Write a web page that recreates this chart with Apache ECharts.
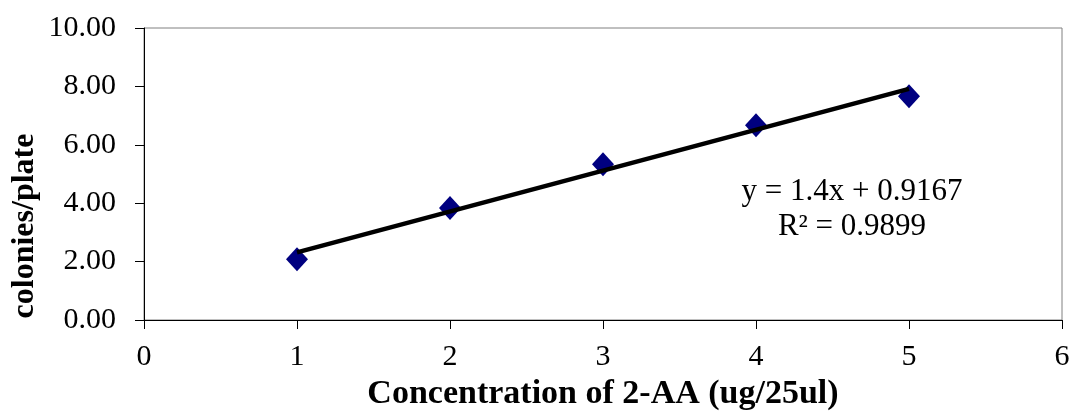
<!DOCTYPE html>
<html>
<head>
<meta charset="utf-8">
<script src="https://cdn.jsdelivr.net/npm/echarts@6/dist/echarts.min.js"></script>
<style>
  html, body { margin: 0; padding: 0; background: #fff; }
  #chart { width: 1072px; height: 412px; }
</style>
</head>
<body>
<div id="chart"></div>
<script>
// measured points
const concentration = [1, 2, 3, 4, 5]
const colonies = [2.0833, 3.8333, 5.3333, 6.6667, 7.6667]

// linear trendline end points (y = 1.4x + 0.9167)
const trendX = [1, 5]
const trendY = [2.3167, 7.9167]

const equationLines = ['y = 1.4x + 0.9167', 'R² = 0.9899']

const font = '"Liberation Serif", "Times New Roman", serif'

const chart = echarts.init(document.getElementById('chart'))

const options = {
  backgroundColor: '#fff',
  animation: false,
  grid: {
    left: 144,
    right: 10,
    top: 28,
    bottom: 92,
    containLabel: false,
    outerBoundsMode: 'none',
    show: true,
    borderColor: '#808080',
    borderWidth: 1,
    backgroundColor: '#fff'
  },
  xAxis: {
    type: 'value',
    min: 0,
    max: 6,
    interval: 1,
    name: 'Concentration of 2-AA (ug/25ul)',
    nameLocation: 'middle',
    nameGap: 57,
    nameTextStyle: { fontFamily: font, fontSize: 34, fontWeight: 'bold', color: '#000' },
    axisLine: { show: true, onZero: false, lineStyle: { color: '#000', width: 1 } },
    axisTick: { show: true, inside: false, length: 9, lineStyle: { color: '#000' } },
    axisLabel: { fontFamily: font, fontSize: 30, color: '#000', margin: 22 },
    splitLine: { show: false }
  },
  yAxis: {
    type: 'value',
    min: 0,
    max: 10,
    interval: 2,
    axisLine: { show: true, onZero: false, lineStyle: { color: '#000', width: 1 } },
    axisTick: { show: true, inside: false, length: 9, lineStyle: { color: '#000' } },
    axisLabel: {
      fontFamily: font, fontSize: 30, color: '#000', margin: 28,
      formatter: v => v.toFixed(2)
    },
    splitLine: { show: false }
  },
  series: [
    {
      name: 'colonies',
      type: 'scatter',
      symbol: 'diamond',
      symbolSize: [22, 24],
      itemStyle: { color: '#000080', opacity: 1 },
      data: concentration.map((x, i) => [x, colonies[i]]),
      z: 2
    },
    {
      name: 'trend',
      type: 'line',
      showSymbol: false,
      symbol: 'none',
      lineStyle: { color: '#000', width: 4.5 },
      data: trendX.map((x, i) => [x, trendY[i]]),
      z: 3
    }
  ],
  graphic: [
    {
      type: 'text',
      x: 25,
      y: 226,
      rotation: Math.PI / 2,
      style: {
        text: 'colonies/plate',
        font: 'bold 32px ' + font,
        fill: '#000',
        textAlign: 'center',
        textVerticalAlign: 'middle'
      }
    },
    {
      type: 'text',
      x: 852,
      y: 209,
      style: {
        text: equationLines.join('\n'),
        font: '31px ' + font,
        lineHeight: 35,
        fill: '#000',
        textAlign: 'center',
        textVerticalAlign: 'middle'
      }
    }
  ]
}

chart.setOption(options)
</script>
</body>
</html>
